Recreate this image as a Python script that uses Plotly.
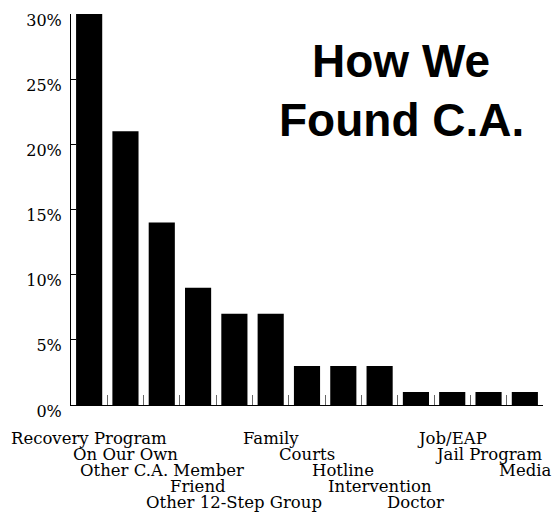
import plotly.graph_objects as go

categories = ["Recovery Program", "On Our Own", "Other C.A. Member", "Friend",
              "Other 12-Step Group", "Family", "Courts", "Hotline", "Intervention",
              "Doctor", "Job/EAP", "Jail Program", "Media"]
percent = [30, 21, 14, 9, 7, 7, 3, 3, 3, 1, 1, 1, 1]
label_rows = [0, 1, 2, 3, 4, 0, 1, 2, 3, 4, 0, 1, 2]
y_ticks = [0, 5, 10, 15, 20, 25, 30]
y_tick_text = [f"{v}%" for v in y_ticks]
title_lines = ["How We", "Found C.A."]

W, H = 553, 514
ML, MR, MT, MB = 71, 10, 14, 109
plot_h = H - MT - MB
plot_w = W - ML - MR

serif = "DejaVu Serif"

fig = go.Figure(go.Bar(
    x=categories, y=percent, width=0.72,
    marker=dict(color="black", line=dict(width=0)),
    hoverinfo="x+y",
))

annotations = []
for cat, row in zip(categories, label_rows):
    annotations.append(dict(
        x=cat, xref="x", y=0, yref="paper", yanchor="middle", xanchor="center",
        yshift=-(33 + 16.2 * row), showarrow=False, text=cat,
        font=dict(family=serif, size=16.5, color="black"),
    ))

title_y_px = [61, 120]
for line, ypx in zip(title_lines, title_y_px):
    annotations.append(dict(
        x=(401 - ML) / plot_w, xref="paper",
        y=(H - MB - ypx) / plot_h,
        yref="paper", xanchor="center", yanchor="middle", showarrow=False,
        text=f"<b>{line}</b>",
        font=dict(family="Liberation Sans", size=46, color="black"),
    ))

fig.update_layout(
    width=W, height=H,
    margin=dict(l=ML, r=MR, t=MT, b=MB, pad=0, autoexpand=False),
    paper_bgcolor="white", plot_bgcolor="white",
    showlegend=False,
    annotations=annotations,
    xaxis=dict(
        type="category", categoryorder="array", categoryarray=categories,
        range=[-0.5, len(categories) - 0.5], automargin=False,
        showticklabels=False, ticks="inside", ticklen=10, tickwidth=1,
        tickcolor="#666", tickson="boundaries", showline=True, linecolor="black",
        linewidth=1, showgrid=False, zeroline=False, fixedrange=True,
    ),
    yaxis=dict(
        range=[0, 30], tickvals=y_ticks, ticktext=y_tick_text, automargin=False,
        ticks="inside", ticklen=5, tickwidth=1, tickcolor="black",
        showline=True, linecolor="black", linewidth=1,
        showgrid=False, zeroline=False, fixedrange=True,
        tickfont=dict(family=serif, size=16, color="black"),
        ticklabelshift=6, ticklabelstandoff=5,
    ),
)

fig.write_html(
    "out.html",
    config={"displayModeBar": False},
    post_script="document.body.style.margin='0px';document.body.style.overflow='hidden';",
)
